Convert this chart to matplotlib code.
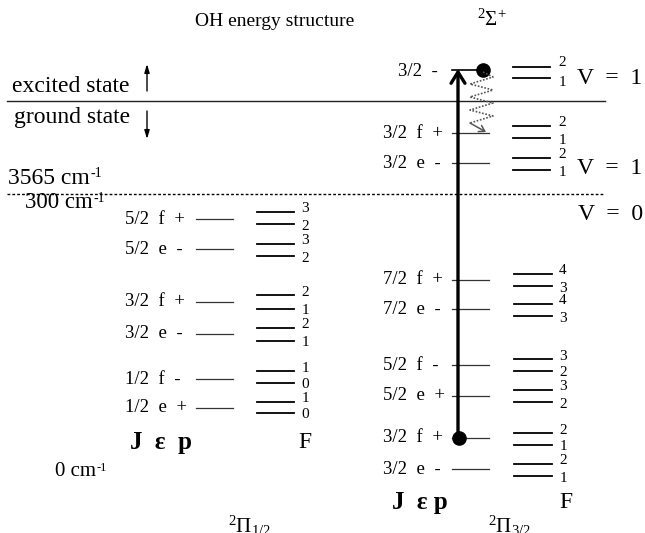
import numpy as np
import matplotlib
matplotlib.use("Agg")
import matplotlib.pyplot as plt

plt.rcParams['font.family'] = ['Liberation Serif', 'DejaVu Serif']
plt.rcParams['mathtext.fontset'] = 'custom'
plt.rcParams['mathtext.rm'] = 'Liberation Serif'
plt.rcParams['mathtext.it'] = 'Liberation Serif:italic'
plt.rcParams['mathtext.bf'] = 'Liberation Serif:bold'

# level positions, drawing units (y grows downward)
# 2Pi 1/2 ladder
pi12_labels = ["5/2  f  +", "5/2  e  -", "3/2  f  +", "3/2  e  -", "1/2  f  -", "1/2  e  +"]
pi12_level_y = [219, 249, 302, 334, 379, 408]
pi12_hf_upper_y = [212, 244, 295, 328, 371, 402]
pi12_hf_lower_y = [224, 256, 309, 341, 383, 413]
pi12_F_upper = ["3", "3", "2", "2", "1", "1"]
pi12_F_lower = ["2", "2", "1", "1", "0", "0"]

# 2Pi 3/2 ladder, v = 0
pi32_labels = ["7/2  f  +", "7/2  e  -", "5/2  f  -", "5/2  e  +", "3/2  f  +", "3/2  e  -"]
pi32_level_y = [280, 309, 365, 396, 438, 469]
pi32_hf_upper_y = [274, 304, 359, 390, 433, 464]
pi32_hf_lower_y = [286, 316, 371, 402, 445, 476]
pi32_F_upper = ["4", "4", "3", "3", "2", "2"]
pi32_F_lower = ["3", "3", "2", "2", "1", "1"]

# 2Pi 3/2 ladder, v = 1
v1_labels = ["3/2  f  +", "3/2  e  -"]
v1_level_y = [133, 163]
v1_hf_upper_y = [126, 158]
v1_hf_lower_y = [138, 170]
v1_F_upper = ["2", "2"]
v1_F_lower = ["1", "1"]

# 2Sigma+ excited level
sig_label = "3/2  -"
sig_level_y = 71
sig_hf_y = [67, 78]
sig_F = ["2", "1"]

# energy marks
energy_text = ["3565 cm", "300 cm", "0 cm"]
energy_xy = [(8, 179), (25, 203), (55, 472)]
energy_size = [17, 16.5, 15]

# relaxation zigzag
zig_x = [483, 493, 470, 493, 470, 493, 470, 493, 470]
zig_y = [72, 77, 84, 90, 97, 103, 110, 116, 123]
zig_end = (486, 132)

fig = plt.figure(figsize=(6.45, 5.33), dpi=100)
ax = fig.add_axes([0, 0, 1, 1])
ax.set_xlim(0, 645)
ax.set_ylim(533, 0)
ax.axis('off')


def ladder(labels, ys, up, lo, Fu, Fl, lab_x, jx, fx, num_x):
    for lab, y, yu, yl, a, b in zip(labels, ys, up, lo, Fu, Fl):
        ax.text(lab_x, y, lab, fontsize=13.5, va='center', ha='left')
        ax.plot(jx, [y, y], color='#333333', lw=0.9)
        ax.plot(fx, [yu, yu], color='black', lw=1.3)
        ax.plot(fx, [yl, yl], color='black', lw=1.3)
        ax.text(num_x, yu - 3, a, fontsize=11, va='center', ha='center')
        ax.text(num_x, yl + 2, b, fontsize=11, va='center', ha='center')


ladder(pi12_labels, pi12_level_y, pi12_hf_upper_y, pi12_hf_lower_y,
       pi12_F_upper, pi12_F_lower, 125, [196, 233], [257, 294], 305)
ladder(pi32_labels, pi32_level_y, pi32_hf_upper_y, pi32_hf_lower_y,
       pi32_F_upper, pi32_F_lower, 383, [452, 489], [514, 552], 563)
ladder(v1_labels, v1_level_y, v1_hf_upper_y, v1_hf_lower_y,
       v1_F_upper, v1_F_lower, 383, [452, 489], [513, 550], 562)

# excited state level
ax.text(398, sig_level_y, sig_label, fontsize=13.5, va='center', ha='left')
ax.plot([452, 483], [70, 70], color='black', lw=1.2)
for yy, f, dy in zip(sig_hf_y, sig_F, [-4, 4]):
    ax.plot([513, 550], [yy, yy], color='black', lw=1.3)
    ax.text(562, yy + dy, f, fontsize=11, va='center', ha='center')

# separators
ax.plot([7, 605], [101, 101], color='#222222', lw=1.0)
ax.plot([7, 605], [194, 194], color='black', lw=1.0, linestyle=(0, (2, 1.5)))

# pump arrow and populated levels
ax.annotate('', xy=(458, 69), xytext=(458, 438),
            arrowprops=dict(arrowstyle='->,head_length=0.8,head_width=0.5',
                            lw=2.4, color='black', shrinkA=0, shrinkB=0))
ax.plot([483], [70], 'o', color='black', ms=9.5)
ax.plot([459], [pi32_level_y[4]], 'o', color='black', ms=9.5)

# relaxation
ax.plot(zig_x, zig_y, color='#555555', lw=1.2, linestyle=(0, (1, 1)))
ax.annotate('', xy=zig_end, xytext=(zig_x[-1], zig_y[-1]),
            arrowprops=dict(arrowstyle='->,head_length=0.4,head_width=0.25',
                            lw=1.1, color='#555555', shrinkA=0, shrinkB=0))

# state arrows
ax.annotate('', xy=(147, 64), xytext=(147, 91),
            arrowprops=dict(arrowstyle='-|>,head_length=0.5,head_width=0.15',
                            lw=1.0, color='black', shrinkA=0, shrinkB=0))
ax.annotate('', xy=(147, 139), xytext=(147, 111),
            arrowprops=dict(arrowstyle='-|>,head_length=0.5,head_width=0.15',
                            lw=1.0, color='black', shrinkA=0, shrinkB=0))

# texts
ax.text(275, 21, "OH energy structure", fontsize=14, ha='center', va='center')
ax.text(492, 20, r"$^{2}\Sigma^{+}$", fontsize=15, ha='center', va='center')
ax.text(12, 86, "excited state", fontsize=17, ha='left', va='center')
ax.text(14, 117, "ground state", fontsize=17, ha='left', va='center')

# wavenumber marks with a hyphen superscript
renderer = fig.canvas.get_renderer()
for txt, (x, y), size in zip(energy_text, energy_xy, energy_size):
    t = ax.text(x, y, txt, fontsize=size, ha='left', va='center')
    bb = t.get_window_extent(renderer).transformed(ax.transData.inverted())
    em = size * 100 / 72.0
    ax.text(bb.x1 + 1, y - 0.5 * em, "-1", fontsize=size * 0.6,
            ha='left', va='top')

ax.text(642, 78, "V  =  1", fontsize=17, ha='right', va='center')
ax.text(642, 168, "V  =  1", fontsize=17, ha='right', va='center')
ax.text(643, 215, "V  =  0", fontsize=17, ha='right', va='center')

ax.text(130, 443, "J  \u03b5  p", fontsize=18, fontweight='bold', ha='left', va='center')
ax.text(305, 443, "F", fontsize=17, ha='center', va='center')
ax.text(392, 503, "J  \u03b5 p", fontsize=18, fontweight='bold', ha='left', va='center')
ax.text(566, 503, "F", fontsize=17, ha='center', va='center')

ax.text(250, 533, r"$^{2}\Pi_{1/2}$", fontsize=15, ha='center', va='baseline')
ax.text(510, 533, r"$^{2}\Pi_{3/2}$", fontsize=15, ha='center', va='baseline')

fig.savefig('out.png', dpi=100)
